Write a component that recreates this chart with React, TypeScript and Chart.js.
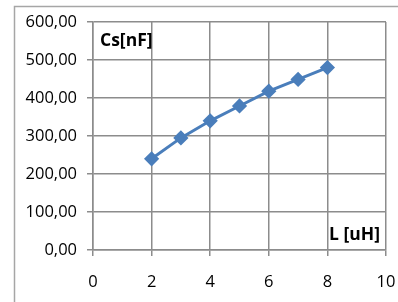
import React, { useEffect, useRef } from "react";
import { Chart, registerables } from "chart.js";

Chart.register(...registerables);

const inductance = [2, 3, 4, 5, 6, 7, 8];
const capacitance = [240, 295, 340, 379, 418, 449, 480];
const xTicks = [0, 2, 4, 6, 8, 10];
const yTicks = [0, 100, 200, 300, 400, 500, 600];
const yTitle = "Cs[nF]";
const xTitle = "L [uH]";

const fmt = (v: number) => v.toFixed(2).replace(".", ",");

export default function App() {
  const ref = useRef<HTMLCanvasElement | null>(null);
  useEffect(() => {
    const canvas = ref.current!;
    const font = "'Open Sans', 'Noto Sans', sans-serif";
    const deco = {
      id: "deco",
      beforeDraw(chart: any) {
        const { ctx } = chart;
        ctx.save();
        ctx.fillStyle = "#ffffff";
        ctx.fillRect(0, 0, chart.width, chart.height);
        ctx.strokeStyle = "#a6a6a6";
        ctx.lineWidth = 1.5;
        ctx.beginPath();
        ctx.moveTo(14.5, chart.height + 5);
        ctx.lineTo(14.5, 6.5);
        ctx.lineTo(chart.width + 5, 6.5);
        ctx.stroke();
        ctx.restore();
      },
      afterDraw(chart: any) {
        const { ctx, chartArea } = chart;
        ctx.save();
        ctx.fillStyle = "#000";
        ctx.font = `bold 17.5px ${font}`;
        ctx.textBaseline = "middle";
        ctx.textAlign = "left";
        ctx.fillText(yTitle, chartArea.left + 7, chartArea.top + 19);
        ctx.textAlign = "right";
        ctx.fillText(xTitle, chartArea.right - 6, chartArea.bottom - 15);
        ctx.restore();
      },
    };
    const chart = new Chart(canvas, {
      type: "line",
      data: {
        datasets: [
          {
            data: inductance.map((x, i) => ({ x, y: capacitance[i] })),
            borderColor: "#4a7ebb",
            backgroundColor: "#4a7ebb",
            borderWidth: 3,
            pointStyle: "rectRot",
            pointRadius: 5.5,
            pointHoverRadius: 5.5,
            tension: 0,
          },
        ],
      },
      options: {
        responsive: false,
        animation: false,
        layout: { padding: { left: 0, right: 12, top: 22, bottom: 0 } },
        plugins: { legend: { display: false }, tooltip: { enabled: false } },
        scales: {
          x: {
            type: "linear",
            min: 0,
            max: 10,
            afterFit: (s: any) => {
              s.height = 52;
              s.paddingLeft = 0;
              s.paddingRight = 0;
            },
            afterBuildTicks: (s: any) => {
              s.ticks = xTicks.map((v) => ({ value: v }));
            },
            grid: { color: "#8c8c8c", lineWidth: 1.5, tickLength: 6, drawTicks: true },
            border: { color: "#8c8c8c", width: 1.5 },
            ticks: {
              color: "#000",
              font: { family: font, size: 16.5 },
              padding: 16,
              maxRotation: 0,
              autoSkip: false,
              callback: (v: any) => String(v),
            },
          },
          y: {
            min: 0,
            max: 600,
            afterFit: (s: any) => {
              s.width = 93;
              s.paddingTop = 0;
              s.paddingBottom = 0;
            },
            afterBuildTicks: (s: any) => {
              s.ticks = yTicks.map((v) => ({ value: v }));
            },
            grid: { color: "#8c8c8c", lineWidth: 1.5, tickLength: 6, drawTicks: true },
            border: { color: "#8c8c8c", width: 1.5 },
            ticks: {
              color: "#000",
              font: { family: font, size: 16.5 },
              padding: 10,
              autoSkip: false,
              callback: (v: any) => fmt(Number(v)),
            },
          },
        },
      },
      plugins: [deco],
    });
    return () => chart.destroy();
  }, []);
  return (
    <div style={{ position: "fixed", left: 0, top: 0, width: 398, height: 302 }}>
      <canvas ref={ref} width={398} height={302} style={{ display: "block" }} />
    </div>
  );
}
